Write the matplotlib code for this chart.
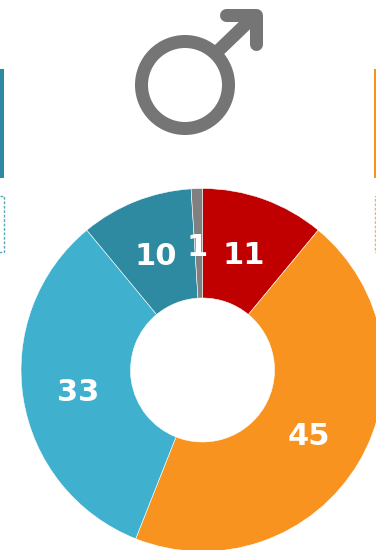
import matplotlib
matplotlib.use("Agg")
import matplotlib.pyplot as plt
from matplotlib.patches import Circle, Rectangle

values = [11, 45, 33, 10, 1]
colors = ["#c00000", "#f7931e", "#3fb1ce", "#2d8aa0", "#808080"]

W, H = 376, 550
GRAY = "#757575"
TEAL = "#2d8aa0"
ORANGE = "#f7931e"


def fy(y):
    # пиксели картинки считаем сверху вниз
    return H - y


fig = plt.figure(figsize=(W / 100, H / 100), dpi=100)
ax = fig.add_axes([0, 0, 1, 1])

wedges, texts, autotexts = ax.pie(
    values,
    colors=colors,
    startangle=90,
    counterclock=False,
    center=(202.5, fy(370)),
    radius=181.5,
    autopct=lambda p: f"{p:.0f}",
    pctdistance=0.69,
    wedgeprops={"width": 109.5, "edgecolor": "white", "linewidth": 0.4},
    textprops={"color": "white", "fontsize": 22, "fontweight": "bold", "family": "DejaVu Sans"},
)
for t in autotexts:
    x, y = t.get_position()
    t.set_position((x - 1, y - 3))

# значок сверху
px = 72 / 100
ax.add_patch(Circle((185, fy(85)), 43.5, fill=False, edgecolor=GRAY, linewidth=13 * px))
ax.plot([218, 256], [fy(51), fy(14.5)], color=GRAY, lw=13 * px, solid_capstyle="butt")
ax.plot([226, 256, 256], [fy(14.5), fy(14.5), fy(44)], color=GRAY, lw=13 * px,
        solid_capstyle="round", solid_joinstyle="round")

# обрезанные боковые панели
ax.add_patch(Rectangle((-2, fy(178)), 6, 109, color=TEAL, lw=0))
ax.add_patch(Rectangle((374, fy(178)), 6, 109, color=ORANGE, lw=0))
ax.add_patch(Rectangle((-10, fy(252)), 13.5, 56, fill=False, edgecolor="#5aa8b8", lw=1.0, ls=(0, (2, 1.2))))
ax.add_patch(Rectangle((374.5, fy(252)), 14, 56, fill=False, edgecolor="#f9ae5a", lw=1.0, ls=(0, (2, 1.2))))

ax.set_xlim(0, W)
ax.set_ylim(0, H)
ax.set_aspect("equal")
ax.axis("off")

fig.savefig("out.png", dpi=100)
